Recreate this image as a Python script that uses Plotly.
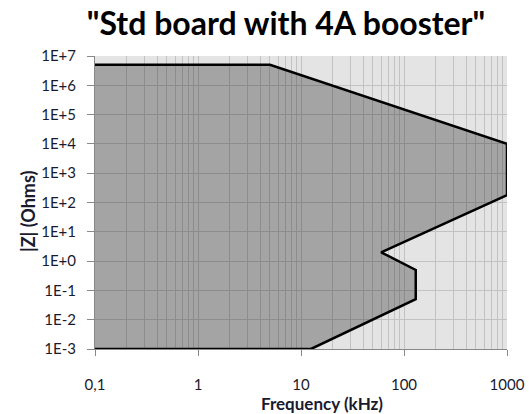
import plotly.graph_objects as go

# Envelope of |Z| vs frequency (kHz)
freq_khz = [0.1, 5, 1000, 1000, 60, 130, 130, 12.5, 0.1]
z_ohms = [5e6, 5e6, 1e4, 180, 2, 0.5, 0.05, 1e-3, 1e-3]

x_tickvals = [0.1, 1, 10, 100, 1000]
x_ticktext = ["0,1", "1", "10", "100", "1000"]
y_tickvals = [1e-3, 1e-2, 1e-1, 1e0, 1e1, 1e2, 1e3, 1e4, 1e5, 1e6, 1e7]
y_ticktext = ["1E-3", "1E-2", "1E-1", "1E+0", "1E+1", "1E+2", "1E+3", "1E+4", "1E+5", "1E+6", "1E+7"]

title_text = '"Std board with 4A booster"'
x_title = "Frequency (kHz)"
y_title = "|Z| (Ohms)"

fig = go.Figure()
# filled area (closed polygon)
fig.add_trace(go.Scatter(
    x=freq_khz, y=z_ohms, mode="lines", fill="toself",
    fillcolor="rgba(0,0,0,0.28)", line=dict(width=0), hoverinfo="skip", showlegend=False))
# outline (open)
fig.add_trace(go.Scatter(
    x=freq_khz, y=z_ohms, mode="lines",
    line=dict(color="black", width=2.5), showlegend=False))

font_family = "Lato, Open Sans, sans-serif"
text_color = "#1a1a2e"
fig.update_layout(
    width=529, height=414,
    margin=dict(l=95, r=22, t=56, b=65, autoexpand=False),
    paper_bgcolor="white", plot_bgcolor="#e4e4e4",
    font=dict(family=font_family, size=15, color=text_color),
    title=dict(text="<b>" + title_text + "</b>", x=286 / 529, xanchor="center",
               y=1 - 24 / 414, yanchor="middle",
               font=dict(size=32, color="black", family=font_family)),
    annotations=[
        dict(text="<b>" + x_title + "</b>", xref="paper", yref="paper",
             x=(322 - 95) / 412, y=-(403 - 349) / 293, xanchor="center", yanchor="middle",
             showarrow=False, font=dict(size=17, color=text_color)),
        dict(text="<b>" + y_title + "</b>", xref="paper", yref="paper", textangle=-90,
             x=-(95 - 28) / 412, y=(349 - 212) / 293, xanchor="center", yanchor="middle",
             showarrow=False, font=dict(size=18, color=text_color)),
    ],
)
fig.update_xaxes(
    type="log", range=[-1, 3], tickvals=x_tickvals, ticktext=x_ticktext,
    showgrid=True, gridcolor="#c2c2c2", gridwidth=1,
    minor=dict(showgrid=True, gridcolor="#c2c2c2", gridwidth=1, dtick="D1", ticks=""),
    ticks="outside", ticklen=6, tickcolor="#888", showline=True, linecolor="#888",
    ticklabelstandoff=16, zeroline=False, tickfont=dict(size=15),
)
fig.update_yaxes(
    type="log", range=[-3, 7], tickvals=y_tickvals, ticktext=y_ticktext,
    showgrid=True, gridcolor="#c2c2c2", gridwidth=1,
    ticks="outside", ticklen=7, tickcolor="#888", showline=True, linecolor="#888",
    ticklabelstandoff=8, zeroline=False, tickfont=dict(size=15),
)
fig.write_html("out.html", config={"displayModeBar": False},
               post_script="document.body.style.margin='0';")
